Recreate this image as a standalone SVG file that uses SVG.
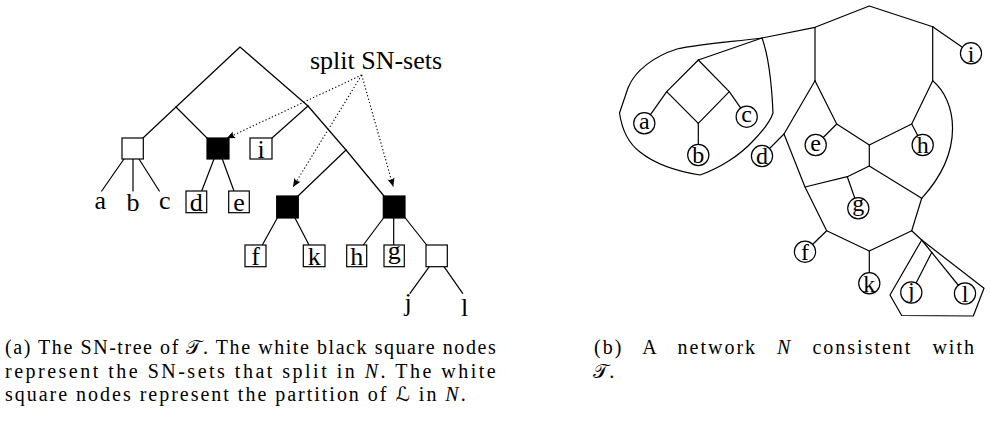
<svg xmlns="http://www.w3.org/2000/svg" width="990" height="421" viewBox="0 0 990 421">
<defs>
<style>
.e{fill:none;stroke:#000;stroke-width:1.2;stroke-linecap:round;stroke-linejoin:round}
.bw{fill:#fff;stroke:#000;stroke-width:1.2}
.bb{fill:#000;stroke:#000;stroke-width:1.2}
.c{fill:#fff;stroke:#000;stroke-width:1.2}
.d{fill:none;stroke:#000;stroke-width:1.1;stroke-dasharray:1.3 2.2}
.t{font-family:"Liberation Serif","DejaVu Serif",serif;font-size:26px;fill:#000;text-anchor:middle}
.n{font-family:"Liberation Serif","DejaVu Serif",serif;font-size:24px;fill:#000;text-anchor:middle}
.cap{font-family:"Liberation Serif","DejaVu Serif",serif;font-size:20px;fill:#000;letter-spacing:1.3px}
.capb{letter-spacing:2px;word-spacing:13px}
.m{font-family:"DejaVu Serif","DejaVu Sans","Noto Sans",serif;font-style:normal}
</style>
<marker id="ar" viewBox="-9 -5 10 10" refX="0" refY="0" markerWidth="10" markerHeight="10" markerUnits="userSpaceOnUse" orient="auto">
<path d="M0,0 L-8.5,-3.6 Q-5.8,0 -8.5,3.6 Z" fill="#000"/>
</marker>
</defs>

<!-- (a) SN-tree -->
<g id="tree-edges">
<polyline class="e" points="176,107 240,47 308,106"/>
<line class="e" x1="176" y1="107" x2="143" y2="138"/>
<line class="e" x1="176" y1="107" x2="207" y2="138"/>
<line class="e" x1="308" y1="106" x2="272" y2="138"/>
<line class="e" x1="308" y1="106" x2="346" y2="150"/>
<line class="e" x1="346" y1="150" x2="298" y2="196"/>
<line class="e" x1="346" y1="150" x2="384" y2="196"/>
<line class="e" x1="124" y1="159" x2="101.7" y2="191"/>
<line class="e" x1="133" y1="159" x2="133" y2="191"/>
<line class="e" x1="139" y1="159" x2="159.3" y2="191"/>
<line class="e" x1="214" y1="159" x2="201.7" y2="191"/>
<line class="e" x1="222.3" y1="159" x2="234" y2="191"/>
<line class="e" x1="277.3" y1="218" x2="262.3" y2="245"/>
<line class="e" x1="295" y1="218" x2="309" y2="245"/>
<line class="e" x1="383.5" y1="218" x2="363.3" y2="245"/>
<line class="e" x1="393.7" y1="218" x2="393.7" y2="245"/>
<line class="e" x1="404.5" y1="217" x2="426.7" y2="245"/>
<line class="e" x1="429.3" y1="266.7" x2="410" y2="293.3"/>
<line class="e" x1="444" y1="266.7" x2="462.7" y2="293.3"/>
</g>
<g id="split-arrows">
<line class="d" x1="361.7" y1="75" x2="226.7" y2="138.3" marker-end="url(#ar)"/>
<line class="d" x1="361.7" y1="75" x2="293" y2="187" marker-end="url(#ar)"/>
<line class="d" x1="361.7" y1="75" x2="393.3" y2="186.7" marker-end="url(#ar)"/>
</g>
<g id="split-label"><text class="t" x="376" y="69">split SN-sets</text></g>
<g id="abc"><rect class="bw" x="122" y="138" width="21.3" height="21"/></g>
<g id="de"><rect class="bb" x="207" y="138" width="22" height="21"/></g>
<g id="i-leaf"><rect class="bw" x="250" y="138" width="22" height="21"/><text class="t" x="261" y="157.5">i</text></g>
<g id="fk"><rect class="bb" x="276.7" y="196" width="21.6" height="22"/></g>
<g id="gh"><rect class="bb" x="383.3" y="196" width="21.7" height="22"/></g>
<g id="jl"><rect class="bw" x="426" y="245" width="21.3" height="21.7"/></g>
<g id="a-leaf"><text class="t" x="100.3" y="209">a</text></g>
<g id="b-leaf"><text class="t" x="133" y="211">b</text></g>
<g id="c-leaf"><text class="t" x="164.7" y="208.5">c</text></g>
<g id="d-leaf"><rect class="bw" x="186" y="191" width="20.7" height="21.7"/><text class="t" x="196.3" y="211">d</text></g>
<g id="e-leaf"><rect class="bw" x="228.7" y="191" width="20.6" height="21.7"/><text class="t" x="239" y="210.5">e</text></g>
<g id="f-leaf"><rect class="bw" x="245" y="245" width="21" height="21.7"/><text class="t" x="255.5" y="265">f</text></g>
<g id="k-leaf"><rect class="bw" x="303.3" y="245" width="21.7" height="21.7"/><text class="t" x="314.2" y="265">k</text></g>
<g id="h-leaf"><rect class="bw" x="346.7" y="245" width="20" height="21.7"/><text class="t" x="356.7" y="265">h</text></g>
<g id="g-leaf"><rect class="bw" x="384" y="245" width="20.3" height="21.7"/><text class="t" x="394.2" y="259">g</text></g>
<g id="j-leaf"><text class="t" x="408" y="311">j</text></g>
<g id="l-leaf"><text class="t" x="464.5" y="316">l</text></g>

<!-- (b) network -->
<g id="net-edges">
<path class="e" d="M762,38 C730,42 700,44 677,49 C655,56 635,70 628,88 L619.5,113 C622,130 628,143 640,152 C655,164 675,171 700,175 C720,168 740,155 752,142 C762,132 770,122 773,113 C772,90 770,60 762,38 Z"/>
<polyline class="e" points="762,38 815,27.3 869.3,6 932.7,26.7"/>
<line class="e" x1="762" y1="38" x2="698.3" y2="60"/>
<polygon class="e" points="698.3,60 729.3,91.7 698.3,123.3 666.7,91.7"/>
<line class="e" x1="666.7" y1="91.7" x2="644.3" y2="123.3"/>
<line class="e" x1="729.3" y1="91.7" x2="746.7" y2="116.7"/>
<line class="e" x1="698.3" y1="123.3" x2="698.3" y2="155"/>
<line class="e" x1="932.7" y1="26.7" x2="971" y2="53.3"/>
<line class="e" x1="815" y1="27.3" x2="815" y2="80.7"/>
<line class="e" x1="932.7" y1="26.7" x2="932.7" y2="80.7"/>
<polyline class="e" points="815,80.7 784,134 805,187 826.7,230.7 869.3,251 911.7,230.7 921.7,198.3"/>
<line class="e" x1="784" y1="134" x2="762" y2="156"/>
<polyline class="e" points="815,80.7 836.7,124 869.3,145 911.7,124 932.7,80.7"/>
<line class="e" x1="836.7" y1="124" x2="815.7" y2="145"/>
<line class="e" x1="911.7" y1="124" x2="922.7" y2="145"/>
<line class="e" x1="869.3" y1="145" x2="869.3" y2="166"/>
<polyline class="e" points="805,187 847.3,176.7 869.3,166 921.7,198.3"/>
<line class="e" x1="847.3" y1="176.7" x2="858.3" y2="208.3"/>
<path class="e" d="M932.7,80.7 C956,100 966,150 921.7,198.3"/>
<line class="e" x1="826.7" y1="230.7" x2="805" y2="251.7"/>
<line class="e" x1="869.3" y1="251" x2="869.3" y2="283.3"/>
<line class="e" x1="911.7" y1="230.7" x2="921.7" y2="240"/>
<polygon class="e" points="921.7,240 984,288.3 973.3,316 901.7,315.5 890,295"/>
<line class="e" x1="921.7" y1="240" x2="965" y2="293.5"/>
<line class="e" x1="931.7" y1="252.4" x2="911.3" y2="292.5"/>
</g>
<g id="na"><circle class="c" cx="644.3" cy="123.3" r="10.6"/><text class="n" x="644.3" y="129">a</text></g>
<g id="nb"><circle class="c" cx="698.3" cy="155" r="10.6"/><text class="n" x="698.3" y="163.2">b</text></g>
<g id="nc"><circle class="c" cx="746.7" cy="116.7" r="10.6"/><text class="n" x="746.7" y="122.2">c</text></g>
<g id="nd"><circle class="c" cx="762" cy="156" r="10.6"/><text class="n" x="762" y="164.2">d</text></g>
<g id="ne"><circle class="c" cx="815.7" cy="145" r="10.6"/><text class="n" x="815.7" y="150.5">e</text></g>
<g id="nh"><circle class="c" cx="922.7" cy="145" r="10.6"/><text class="n" x="922.7" y="153.2">h</text></g>
<g id="ni"><circle class="c" cx="971" cy="53.3" r="10.6"/><text class="n" x="971" y="61.5">i</text></g>
<g id="ng"><circle class="c" cx="858.3" cy="208.3" r="10.6"/><text class="n" x="858.3" y="211.3">g</text></g>
<g id="nf"><circle class="c" cx="805" cy="251.7" r="10.6"/><text class="n" x="805" y="259.9">f</text></g>
<g id="nk"><circle class="c" cx="869.3" cy="283.3" r="10.6"/><text class="n" x="869.3" y="291.5">k</text></g>
<g id="nj"><circle class="c" cx="911.3" cy="292.5" r="10.6"/><text class="n" x="911.3" y="298">j</text></g>
<g id="nl"><circle class="c" cx="965" cy="293.5" r="10.6"/><text class="n" x="965" y="301.7">l</text></g>

<!-- captions -->
<g id="caption-a">
<text class="cap" x="5" y="354" textLength="492" lengthAdjust="spacing">(a) The SN-tree of <tspan class="m">𝒯</tspan>. The white black square nodes</text>
<text class="cap" x="5" y="377.5" textLength="492" lengthAdjust="spacing">represent the SN-sets that split in <tspan font-style="italic">N</tspan>. The white</text>
<text class="cap" x="5" y="401" textLength="462" lengthAdjust="spacing">square nodes represent the partition of <tspan class="m">ℒ</tspan> in <tspan font-style="italic">N</tspan>.</text>
</g>
<g id="caption-b">
<text class="cap capb" x="594" y="354">(b) A network <tspan font-style="italic">N</tspan> consistent with</text>
<text class="cap" x="593" y="377.5"><tspan class="m">𝒯</tspan>.</text>
</g>
</svg>
